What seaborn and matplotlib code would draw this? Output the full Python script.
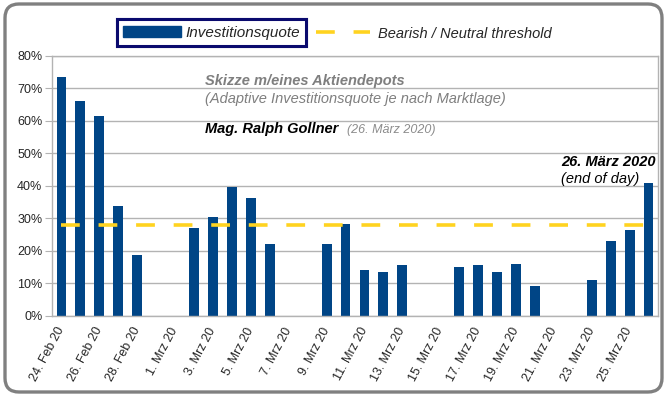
import numpy as np
import pandas as pd
import matplotlib
matplotlib.use("Agg")
import matplotlib.pyplot as plt
import matplotlib.transforms as mtransforms
from matplotlib.patches import Patch, FancyBboxPatch
from matplotlib.lines import Line2D
import seaborn as sns

# trading days 24 Feb - 26 Mar 2020, weekends left empty
days = pd.date_range("2020-02-24", "2020-03-26")
month_de = {2: "Feb", 3: "Mrz"}
day_labels = [f"{d.day}. {month_de[d.month]} 20" for d in days]

quote = [73.5, 66.1, 61.4, 33.9, 18.8, np.nan, np.nan,
         26.9, 30.3, 39.7, 36.2, 22.1, np.nan, np.nan,
         22.1, 28.3, 14.1, 13.4, 15.5, np.nan, np.nan,
         15.0, 15.5, 13.4, 15.8, 9.0, np.nan, np.nan,
         11.0, 23.1, 26.3, 40.7]
threshold = 28
y_ticks = [0, 10, 20, 30, 40, 50, 60, 70, 80]

bar_color = "#004586"
line_color = "#FFD320"
grid_color = "#b3b3b3"

df = pd.DataFrame({"Tag": day_labels, "Quote": quote})

sns.set_style("white")
plt.rcParams["font.family"] = ["Liberation Sans", "DejaVu Sans"]

W, H = 672, 400
fig = plt.figure(figsize=(W / 100, H / 100), dpi=100)
fig.subplots_adjust(left=52 / W, right=658 / W, top=1 - 55.7 / H, bottom=1 - 315.7 / H)
ax = fig.add_subplot(111)

sns.barplot(data=df, x="Tag", y="Quote", order=day_labels, color=bar_color,
            saturation=1, width=0.52, errorbar=None, linewidth=0, ax=ax)

n = len(day_labels)
ax.axhline(threshold, xmin=0.5 / n, xmax=1, color=line_color, lw=2.6,
           linestyle=(0, (5.2, 5.2)), zorder=3)

ax.set_xlim(-0.5, n - 0.5)
ax.set_ylim(0, 80)
ax.set_yticks(y_ticks)
ax.set_yticklabels([f"{v}%" for v in y_ticks], fontsize=9)
ax.yaxis.grid(True, color=grid_color, lw=1)
ax.set_axisbelow(True)

ax.set_xticks(range(0, n, 2))
ax.set_xticklabels(day_labels[::2], rotation=62, ha="right", va="center",
                   rotation_mode="anchor", fontsize=9)
ax.set_xticks(np.arange(-0.5, n, 2), minor=True)
ax.tick_params(axis="x", which="major", length=0, pad=9)
ax.tick_params(axis="x", which="minor", length=4, color=grid_color, direction="out")
ax.tick_params(axis="y", length=5, color=grid_color, pad=2, left=True)
ax.set_xlabel("")
ax.set_ylabel("")
for s in ax.spines.values():
    s.set_color(grid_color)
    s.set_linewidth(1)


def fx(x):
    return x / W


def fy(y):
    return 1 - y / H


# legend: bar entry in a navy box, threshold entry without frame
leg1 = fig.legend(handles=[Patch(color=bar_color)], labels=["Investitionsquote"],
                  loc="center", bbox_to_anchor=(fx(211.5), fy(32.5)),
                  fontsize=11, handlelength=3.8, handletextpad=0.25,
                  borderpad=0.42, borderaxespad=0, fancybox=False, framealpha=1,
                  edgecolor="#0a0a6e", prop={"style": "italic", "size": 11})
leg1.get_frame().set_linewidth(2.2)
leg2 = fig.legend(handles=[Line2D([], [], color=line_color, lw=2.6, linestyle=(0, (5.2, 5.2)))],
                  labels=["Bearish / Neutral threshold"],
                  loc="center left", bbox_to_anchor=(fx(316), fy(33.5)),
                  handlelength=3.7, handletextpad=0.55, borderpad=0, borderaxespad=0,
                  frameon=False, prop={"style": "italic", "size": 10.5})
fig.add_artist(leg1)

gray = "#7f7f7f"
fig.text(fx(205), fy(81), "Skizze m/eines Aktiendepots", fontsize=10.5, fontweight="bold",
         style="italic", color=gray, va="center")
fig.text(fx(205), fy(99), "(Adaptive Investitionsquote je nach Marktlage)", fontsize=10.5,
         style="italic", color=gray, va="center")
fig.text(fx(205), fy(129.5), "Mag. Ralph Gollner", fontsize=10.5, fontweight="bold",
         style="italic", color="black", va="center")
fig.text(fx(347), fy(129.5), "(26. März 2020)", fontsize=9, style="italic",
         color="#8c8c8c", va="center")
fig.text(fx(561), fy(161.5), "26. März 2020", fontsize=10.5, fontweight="bold",
         style="italic", color="black", va="center")
fig.text(fx(561), fy(179), "(end of day)", fontsize=10.5, style="italic",
         color="black", va="center")

# rounded outer frame
frame = FancyBboxPatch((5, 8), 657, 388, boxstyle="round,pad=0,rounding_size=14",
                       transform=mtransforms.IdentityTransform(), facecolor="none",
                       edgecolor="#808080", lw=2.4)
fig.add_artist(frame)

fig.savefig("out.png", dpi=100)
